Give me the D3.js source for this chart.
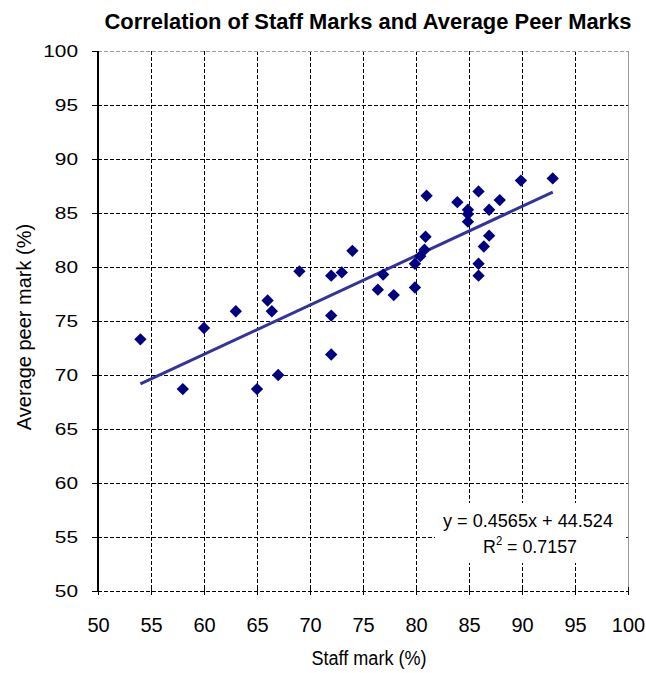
<!DOCTYPE html>
<html><head><meta charset="utf-8">
<script src="https://cdn.jsdelivr.net/npm/d3@7"></script>
<style>body{margin:0;background:#fff}</style>
</head><body>
<svg id="c" width="646" height="673"></svg>
<script>
const title = "Correlation of Staff Marks and Average Peer Marks";
const xLabel = "Staff mark (%)";
const yLabel = "Average peer mark (%)";
const xTicks = [50,55,60,65,70,75,80,85,90,95,100];
const yTicks = [50,55,60,65,70,75,80,85,90,95,100];
const staffMarks = [54,58,60,63,65,66,66.4,67,69,72,72,72,73,74,76.4,76.9,77.9,79.9,79.9,80.4,80.8,80.9,81,83.9,84.9,84.9,84.9,85.9,85.9,85.9,86.4,86.9,86.9,87.9,89.9,92.9];
const peerMarks  = [73.3,68.7,74.35,75.9,68.7,76.9,75.9,70.0,79.6,79.2,75.5,71.9,79.5,81.5,77.9,79.3,77.4,78.1,80.3,81.0,81.6,82.8,86.6,86.0,85.3,84.9,84.2,87.0,80.3,79.2,81.9,82.9,85.3,86.2,88.0,88.2];
const slope = 0.4565, intercept = 44.524;
const eqText = "y = 0.4565x + 44.524";
const r2Text = "0.7157";

const font = "'Liberation Sans',Arial,sans-serif";
const svg = d3.select("#c");
const L = 98, R = 628, T = 51, B = 591;
const x = d3.scaleLinear().domain([50,100]).range([L,R]);
const y = d3.scaleLinear().domain([50,100]).range([B,T]);
const px = v => Math.round(v) + 0.5;

// grid
const g = svg.append("g").attr("shape-rendering","crispEdges");
g.selectAll(".gx").data(xTicks.slice(1,-1)).join("line")
  .attr("x1",d=>px(x(d))).attr("x2",d=>px(x(d))).attr("y1",T).attr("y2",B)
  .attr("stroke","#000").attr("stroke-width",1).attr("stroke-dasharray","4,2");
g.selectAll(".gy").data(yTicks.slice(1,-1)).join("line")
  .attr("x1",L).attr("x2",R).attr("y1",d=>px(y(d))).attr("y2",d=>px(y(d)))
  .attr("stroke","#000").attr("stroke-width",1).attr("stroke-dasharray","4,2");
g.append("line").attr("x1",L).attr("x2",R).attr("y1",px(B)).attr("y2",px(B))
  .attr("stroke","#000").attr("stroke-width",1).attr("stroke-dasharray","4,2");
g.append("line").attr("x1",px(R)).attr("x2",px(R)).attr("y1",T).attr("y2",B)
  .attr("stroke","#999").attr("stroke-width",1);
g.append("line").attr("x1",L).attr("x2",R).attr("y1",px(T)).attr("y2",px(T))
  .attr("stroke","#999").attr("stroke-width",1).attr("stroke-dasharray","4,2");

// y axis
const ya = svg.append("g").attr("transform",`translate(${L},0)`)
  .call(d3.axisLeft(y).tickValues(yTicks).tickSize(6).tickPadding(14).tickFormat(d3.format("d")));
ya.attr("shape-rendering","crispEdges");
ya.select(".domain").attr("stroke","#000").attr("stroke-width",2).attr("d",`M0,${T}V${B}`);
ya.selectAll(".tick line").attr("stroke","#000").attr("stroke-width",1);
ya.selectAll("text").attr("font-family",font).attr("font-size",17).attr("fill","#000")
  .attr("textLength",d=>String(d).length*11.6).attr("lengthAdjust","spacingAndGlyphs");

// x axis
const xa = svg.append("g").attr("transform",`translate(0,${B})`)
  .call(d3.axisBottom(x).tickValues(xTicks).tickSize(4).tickFormat(d3.format("d")));
xa.attr("shape-rendering","crispEdges");
xa.select(".domain").remove();
xa.selectAll(".tick line").attr("stroke","#000").attr("stroke-width",1).attr("y1",-4);
xa.selectAll("text").attr("font-family",font).attr("font-size",20).attr("fill","#000")
  .attr("y",41).attr("dy",0);

// trendline
const xs = d3.extent(staffMarks);
svg.append("line")
  .attr("x1",x(xs[0])).attr("y1",y(slope*xs[0]+intercept))
  .attr("x2",x(xs[1])).attr("y2",y(slope*xs[1]+intercept))
  .attr("stroke","#33339a").attr("stroke-width",3);

// points
const pts = staffMarks.map((s,i)=>({s,p:peerMarks[i]}));
svg.selectAll(".pt").data(pts).join("path")
  .attr("d",d3.symbol(d3.symbolSquare, 76))
  .attr("transform",d=>`translate(${x(d.s)},${y(d.p)}) rotate(45)`)
  .attr("fill","#000080");

// equation label
svg.append("rect").attr("x",435).attr("y",503).attr("width",189).attr("height",60).attr("fill","#fff");
svg.append("text").attr("x",528).attr("y",527).attr("text-anchor","middle")
  .attr("font-family",font).attr("font-size",19)
  .attr("textLength",170).attr("lengthAdjust","spacingAndGlyphs").text(eqText);
const t2 = svg.append("text").attr("x",530).attr("y",553).attr("text-anchor","middle")
  .attr("font-family",font).attr("font-size",19);
t2.append("tspan").text("R");
t2.append("tspan").attr("dy",-8).attr("font-size",12).text("2");
t2.append("tspan").attr("dy",8).text(" = " + r2Text);
const bb = t2.node().getBBox();
t2.attr("transform",`translate(530,0) scale(${94/bb.width},1) translate(-530,0)`);

// titles
svg.append("text").attr("x",368).attr("y",29).attr("text-anchor","middle")
  .attr("font-family",font).attr("font-weight","bold").attr("font-size",22)
  .attr("textLength",527).attr("lengthAdjust","spacingAndGlyphs").text(title);
svg.append("text").attr("x",369).attr("y",665).attr("text-anchor","middle")
  .attr("font-family",font).attr("font-size",20)
  .attr("textLength",115).attr("lengthAdjust","spacingAndGlyphs").text(xLabel);
svg.append("text").attr("transform","translate(31,327) rotate(-90)").attr("text-anchor","middle")
  .attr("font-family",font).attr("font-size",20).text(yLabel);
</script>
</body></html>
